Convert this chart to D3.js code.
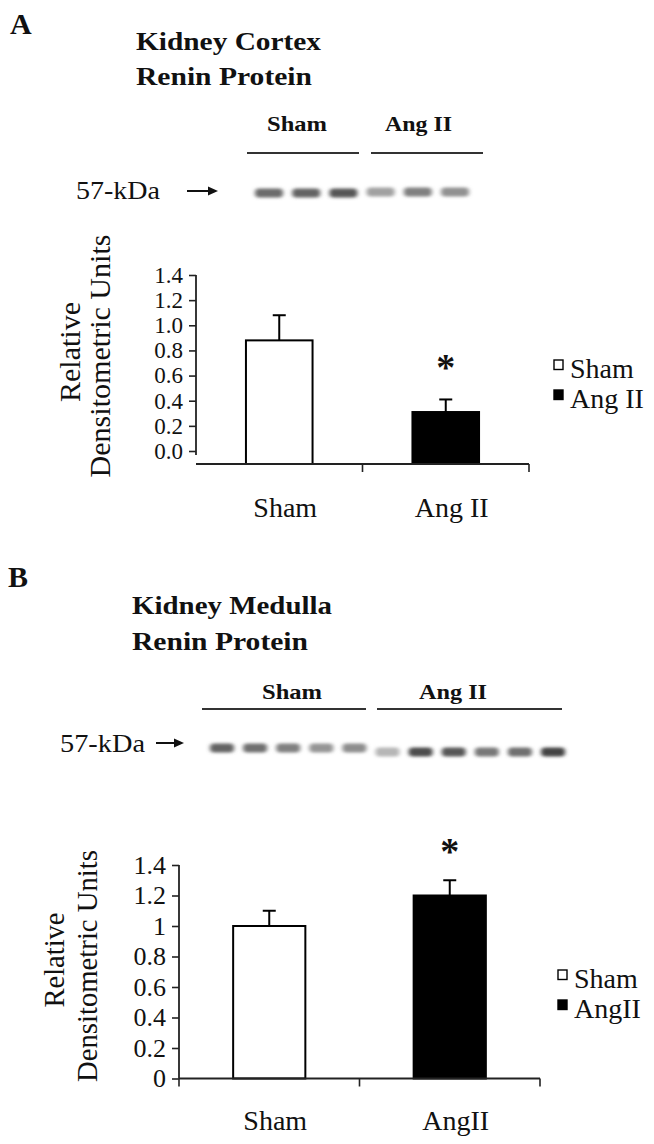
<!DOCTYPE html>
<html>
<head>
<meta charset="utf-8">
<script src="https://cdn.jsdelivr.net/npm/d3@7/dist/d3.min.js"></script>
<style>
  html, body { margin: 0; padding: 0; background: #fff; }
  svg { display: block; }
  text { font-family: "Liberation Serif", "Times New Roman", serif; fill: #111; }
</style>
</head>
<body>
<svg id="fig" width="654" height="1144"></svg>
<script>
// ---------------- DATA ----------------
const cortexGroups = ["Sham", "Ang II"];
const cortexMeans = [0.88, 0.31];
const cortexErrors = [0.2, 0.1];
const cortexTicks = [0, 0.2, 0.4, 0.6, 0.8, 1.0, 1.2, 1.4];
const cortexTickLabels = ["0.0", "0.2", "0.4", "0.6", "0.8", "1.0", "1.2", "1.4"];
const cortexLaneGroups = ["Sham", "Sham", "Sham", "Ang II", "Ang II", "Ang II"];
const cortexBandDensity = [0.62, 0.66, 0.72, 0.36, 0.52, 0.44];

const medullaGroups = ["Sham", "AngII"];
const medullaMeans = [1.0, 1.2];
const medullaErrors = [0.1, 0.1];
const medullaTicks = [0, 0.2, 0.4, 0.6, 0.8, 1.0, 1.2, 1.4];
const medullaTickLabels = ["0", "0.2", "0.4", "0.6", "0.8", "1", "1.2", "1.4"];
const medullaLaneGroups = ["Sham", "Sham", "Sham", "Sham", "Sham", "Ang II", "Ang II", "Ang II", "Ang II", "Ang II", "Ang II"];
const medullaBandDensity = [0.66, 0.6, 0.52, 0.42, 0.46, 0.26, 0.78, 0.72, 0.56, 0.6, 0.82];

const legendLabelsA = ["Sham", "Ang II"];
const legendLabelsB = ["Sham", "AngII"];
const barFills = ["#ffffff", "#000000"];

// ---------------- DRAW ----------------
const svg = d3.select("#fig");
const defs = svg.append("defs");
defs.append("filter").attr("id", "blur").attr("x", "-40%").attr("y", "-80%").attr("width", "180%").attr("height", "260%")
  .append("feGaussianBlur").attr("stdDeviation", "2.2 1.8");

function txt(g, s, x, y, o = {}) {
  const t = g.append("text").attr("x", x).attr("y", y).text(s)
    .style("font-size", (o.size || 20) + "px")
    .style("font-weight", o.bold ? "bold" : "normal")
    .attr("text-anchor", o.anchor || "start");
  if (o.len) t.attr("textLength", o.len).attr("lengthAdjust", "spacingAndGlyphs");
  if (o.transform) t.attr("transform", o.transform);
  return t;
}

function drawBlot(cfg) {
  const g = svg.append("g");
  const lanes = d3.scalePoint().domain(d3.range(cfg.density.length)).range(cfg.laneRange);
  const gray = d3.scaleLinear().domain([0, 1]).range([235, 30]);
  g.selectAll("rect.band").data(cfg.density).join("rect")
    .attr("class", "band")
    .attr("x", (d, i) => lanes(i) - cfg.bandW / 2)
    .attr("y", (d, i) => cfg.bandY[cfg.laneGroups[i] === "Sham" ? 0 : 1] - cfg.bandH / 2)
    .attr("width", cfg.bandW)
    .attr("height", cfg.bandH)
    .attr("rx", 4)
    .attr("fill", d => { const v = Math.round(gray(d)); return `rgb(${v},${v},${v})`; })
    .attr("filter", "url(#blur)");
  cfg.headers.forEach(h => {
    txt(g, h.label, h.x, cfg.headerY, { size: 22, bold: true, len: h.len });
    g.append("line").attr("x1", h.l1).attr("x2", h.l2).attr("y1", cfg.lineY).attr("y2", cfg.lineY)
      .attr("stroke", "#333").attr("stroke-width", 2);
  });
  txt(g, "57-kDa", cfg.kdaX, cfg.kdaY, { size: 26, len: cfg.kdaLen });
  g.append("line").attr("x1", cfg.arrow[0]).attr("x2", cfg.arrow[1] - 8)
    .attr("y1", cfg.arrow[2]).attr("y2", cfg.arrow[2]).attr("stroke", "#111").attr("stroke-width", 2);
  g.append("path")
    .attr("d", `M${cfg.arrow[1]},${cfg.arrow[2]} L${cfg.arrow[1] - 10},${cfg.arrow[2] - 4.5} L${cfg.arrow[1] - 10},${cfg.arrow[2] + 4.5} Z`)
    .attr("fill", "#111");
}

function drawChart(cfg) {
  const g = svg.append("g");
  const y = d3.scaleLinear().domain([0, 1.4]).range([cfg.y0, cfg.y14]);
  const x = d3.scaleBand().domain(cfg.groups).range([cfg.xLeft, cfg.xRight])
    .paddingInner(0.6).paddingOuter(0.3);

  const yAxis = d3.axisLeft(y).tickValues(cfg.ticks)
    .tickFormat((d, i) => cfg.tickLabels[i]).tickSize(7).tickPadding(6);
  const ya = g.append("g").attr("transform", `translate(${cfg.xLeft},0)`).call(yAxis);
  ya.select(".domain").remove();
  ya.selectAll(".tick line").attr("stroke", "#222").attr("stroke-width", 1.6);
  ya.selectAll(".tick text").style("font-size", cfg.tickSize + "px")
    .style("font-family", '"Liberation Serif", serif').attr("fill", "#111");
  g.append("line").attr("x1", cfg.xLeft).attr("x2", cfg.xLeft)
    .attr("y1", y(1.4)).attr("y2", cfg.yAxisBottom).attr("stroke", "#222").attr("stroke-width", 1.8);

  g.selectAll("rect.bar").data(cfg.means).join("rect")
    .attr("class", "bar")
    .attr("x", (d, i) => x(cfg.groups[i]))
    .attr("y", d => y(d))
    .attr("width", x.bandwidth())
    .attr("height", d => cfg.base - y(d))
    .attr("fill", (d, i) => barFills[i])
    .attr("stroke", "#000").attr("stroke-width", 2);

  cfg.means.forEach((m, i) => {
    const cx = x(cfg.groups[i]) + x.bandwidth() / 2;
    g.append("line").attr("x1", cx).attr("x2", cx).attr("y1", y(m)).attr("y2", y(m + cfg.errors[i]))
      .attr("stroke", "#000").attr("stroke-width", 2);
    g.append("line").attr("x1", cx - 6.5).attr("x2", cx + 6.5)
      .attr("y1", y(m + cfg.errors[i])).attr("y2", y(m + cfg.errors[i]))
      .attr("stroke", "#000").attr("stroke-width", 2);
  });

  g.append("line").attr("x1", cfg.xLeft).attr("x2", cfg.xRight)
    .attr("y1", cfg.base).attr("y2", cfg.base).attr("stroke", "#222").attr("stroke-width", 1.8);
  const bounds = cfg.leftTick ? [0, 1, 2] : [1, 2];
  bounds.forEach(k => {
    const bx = cfg.xLeft + (cfg.xRight - cfg.xLeft) * k / 2;
    g.append("line").attr("x1", bx).attr("x2", bx).attr("y1", cfg.base).attr("y2", cfg.base + 8)
      .attr("stroke", "#222").attr("stroke-width", 1.6);
  });
  cfg.groups.forEach((gname, i) => {
    txt(g, gname, x(gname) + x.bandwidth() / 2 + 6, cfg.xLabelY, { size: 28, anchor: "middle" });
  });

  const sx = x(cfg.groups[1]) + x.bandwidth() / 2;
  txt(g, "*", sx, cfg.starY, { size: 38, bold: true, anchor: "middle" });

  txt(g, "Relative", 0, 0, { size: 30, anchor: "middle", len: cfg.relLen,
    transform: `translate(${cfg.relX},${cfg.relY}) rotate(-90)` });
  txt(g, "Densitometric Units", 0, 0, { size: 30, anchor: "middle", len: cfg.denLen,
    transform: `translate(${cfg.denX},${cfg.denY}) rotate(-90)` });

  cfg.legend.forEach((lab, i) => {
    const ly = cfg.legendY + i * 30;
    g.append("rect").attr("x", cfg.legendX).attr("y", ly - 18).attr("width", 9).attr("height", 9.5)
      .attr("fill", barFills[i]).attr("stroke", "#000").attr("stroke-width", 1.4);
    txt(g, lab, cfg.legendX + 16, ly, { size: 28 });
  });
}

txt(svg, "A", 10, 34, { size: 30, bold: true });
txt(svg, "Kidney Cortex", 136, 50, { size: 25, bold: true, len: 185 });
txt(svg, "Renin Protein", 136, 85, { size: 25, bold: true, len: 176 });

drawBlot({
  density: cortexBandDensity, laneGroups: cortexLaneGroups,
  laneRange: [269, 455], bandW: 28, bandH: 9, bandY: [193, 192],
  headerY: 131, lineY: 153,
  headers: [
    { label: "Sham", x: 267, len: 60, l1: 247, l2: 359 },
    { label: "Ang II", x: 385, len: 67, l1: 371, l2: 483 }
  ],
  kdaX: 76, kdaY: 199, kdaLen: 84, arrow: [187, 218, 191]
});

drawChart({
  groups: cortexGroups, means: cortexMeans, errors: cortexErrors,
  ticks: cortexTicks, tickLabels: cortexTickLabels, tickSize: 23,
  y0: 451, y14: 275, base: 464, yAxisBottom: 455, leftTick: false,
  xLeft: 196, xRight: 529, xLabelY: 517, starY: 380,
  relX: 80, relY: 352, relLen: 100, denX: 110, denY: 356, denLen: 243,
  legend: legendLabelsA, legendX: 554, legendY: 378
});

txt(svg, "B", 8, 587, { size: 30, bold: true });
txt(svg, "Kidney Medulla", 132, 614, { size: 25, bold: true, len: 200 });
txt(svg, "Renin Protein", 132, 650, { size: 25, bold: true, len: 176 });

drawBlot({
  density: medullaBandDensity, laneGroups: medullaLaneGroups,
  laneRange: [222, 553], bandW: 24, bandH: 9, bandY: [748, 752],
  headerY: 699, lineY: 709,
  headers: [
    { label: "Sham", x: 262, len: 60, l1: 202, l2: 366 },
    { label: "Ang II", x: 419, len: 68, l1: 377, l2: 562 }
  ],
  kdaX: 60, kdaY: 752, kdaLen: 85, arrow: [156, 184, 743]
});

drawChart({
  groups: medullaGroups, means: medullaMeans, errors: medullaErrors,
  ticks: medullaTicks, tickLabels: medullaTickLabels, tickSize: 26,
  y0: 1078.5, y14: 865, base: 1078.5, yAxisBottom: 1078.5, leftTick: true,
  xLeft: 179, xRight: 540, xLabelY: 1130, starY: 864,
  relX: 64, relY: 960, relLen: 95, denX: 97, denY: 966, denLen: 232,
  legend: legendLabelsB, legendX: 558, legendY: 988
});
</script>
</body>
</html>
